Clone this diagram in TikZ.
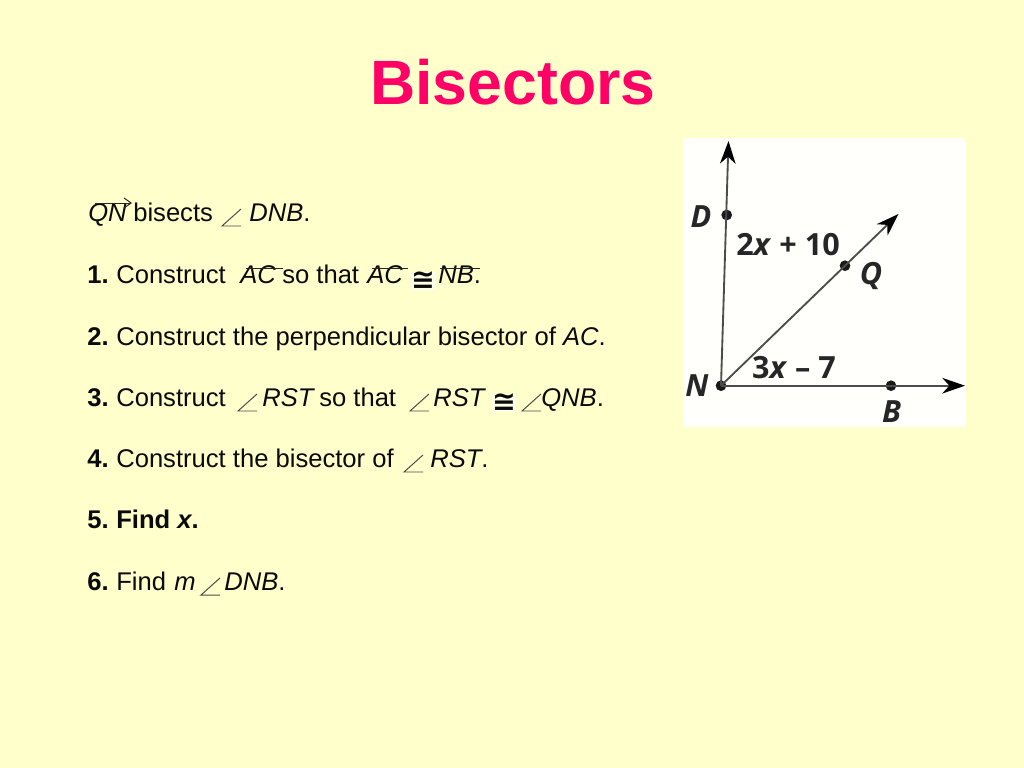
\documentclass[tikz,border=0pt]{standalone}
\usepackage{fontspec}
\setmainfont{Liberation Sans}
\newfontfamily\figfont{Open Sans}
\newfontfamily\congfont{DejaVu Sans}
\usetikzlibrary{arrows.meta}
\definecolor{slidebg}{HTML}{FFFFCC}
\definecolor{titlepink}{HTML}{FF0066}
\definecolor{inktext}{HTML}{0A0A0A}
\tikzset{
    slide title/.style = {
      text=titlepink, font=\fontsize{44}{48}\selectfont\bfseries, anchor=base, inner sep=0,
    },
    body/.style = {
      text=inktext, font=\fontsize{18}{22}\selectfont, anchor=base west, inner sep=0,
    },
    congsign/.style = {
      text=inktext, fill=white!60!slidebg, font=\fontsize{20}{22}\congfont\bfseries, inner sep=0,
    },
    anglemark/.style = {
      black!70!white, line width=0.7pt,
    },
    overbar/.style = {
      black!85!white, line width=0.7pt,
    },
    point/.style = {
      fill=black!90!white, circle, minimum size=7.5pt, inner sep=0,
    },
    ray/.style = {
      black!70!white, line width=1.3pt, arrows={-Stealth[length=16pt, width=11pt, inset=5pt, black]},
    },
    figlabel/.style = {
      text=black!85!white, font=\fontsize{21.5}{24}\figfont\bfseries, inner sep=0,
    },
}
\begin{document}
\begin{tikzpicture}[x=0.703125pt, y=-0.703125pt]
    %% Slide background and title
    \fill [slidebg] (0,0) rectangle (1024,768);
    \useasboundingbox (0,0) rectangle (1024,768);
    \node [slide title] (title) at (513,105) {Bisectors};

    %% Text lines, left to right
    \node [body] (qn) at (88,222) {\textit{QN}};
    \node [body] (bisects) at (133,222) {bisects};
    \node [body] (dnb) at (249,222) {\textit{DNB}.};

    \node [body] (one) at (87,283) {\textbf{1.}};
    \node [body] (cons1) at (116,283) {Construct};
    \node [body] (ac1) at (240,283) {\textit{AC}};
    \node [body] (sothat1) at (282,283) {so that};
    \node [body] (ac2) at (367,283) {\textit{AC}};
    \node [congsign] (cong1) at (423,281) {≅};
    \node [body] (nb) at (438,283) {\textit{NB}.};

    \node [body] (two) at (87,345) {\textbf{2.}};
    \node [body] (cons2) at (116,345) {Construct the perpendicular bisector of \textit{AC}.};

    \node [body] (three) at (87,406) {\textbf{3.}};
    \node [body] (cons3) at (116,406) {Construct};
    \node [body] (rst1) at (262,406) {\textit{RST}};
    \node [body] (sothat2) at (319,406) {so that};
    \node [body] (rst2) at (433,406) {\textit{RST}};
    \node [congsign] (cong2) at (504,403) {≅};
    \node [body] (qnb) at (541,406) {\textit{QNB}.};

    \node [body] (four) at (87,467) {\textbf{4.}};
    \node [body] (cons4) at (116,467) {Construct the bisector of};
    \node [body] (rst3) at (430,467) {\textit{RST}.};

    \node [body] (five) at (87,528) {\textbf{5.}};
    \node [body] (findx) at (116,528) {\textbf{Find \textit{x}.}};

    \node [body] (six) at (87,590) {\textbf{6.}};
    \node [body] (find) at (116,590) {Find};
    \node [body] (m) at (174,590) {\textit{m}};
    \node [body] (dnb2) at (224,590) {\textit{DNB}.};

    %% Angle signs
    \foreach \vx/\vy in {222/226, 238/411, 410/411, 522/411, 404/472, 201/595}{%
      \draw [anglemark] (\vx+19,\vy-17) -- (\vx,\vy) -- (\vx+19,\vy);
    }

    %% Bars over the segments, and the arrow over QN
    \draw [overbar] (246,268) -- (283,268);
    \draw [overbar] (372,268) -- (408,268);
    \draw [overbar] (440,268) -- (480,268);
    \draw [overbar, arrows={-Straight Barb[length=5pt, width=7pt]}] (95,203) -- (132,203);

    %% Figure: white panel, rays from N
    \fill [white!92!slidebg] (683,138) rectangle (966,427);
    \coordinate (tipD) at (728.5,141);
    \coordinate (tipQ) at (898.5,214);
    \coordinate (tipB) at (965,385.7);
    \node [point] (ptN) at (721,385.7) {};
    \node [point] (ptD) at (726.7,215) {};
    \node [point] (ptQ) at (845,265.7) {};
    \node [point] (ptB) at (891,385.7) {};
    \draw [ray] (ptN.center) -- (tipD);
    \draw [ray] (ptN.center) -- (tipQ);
    \draw [ray] (ptN.center) -- (tipB);

    %% Figure labels
    \node [figlabel] (lblD) at (701,217) {\textit{D}};
    \node [figlabel] (lblN) at (697,386) {\textit{N}};
    \node [figlabel] (lblQ) at (871,276) {\textit{Q}};
    \node [figlabel] (lblB) at (891.5,412) {\textit{B}};
    \node [figlabel] (lblTop) at (788,245) {2\textit{x} + 10};
    \node [figlabel] (lblLow) at (794,368) {3\textit{x} – 7};
  \end{tikzpicture}
\end{document}
